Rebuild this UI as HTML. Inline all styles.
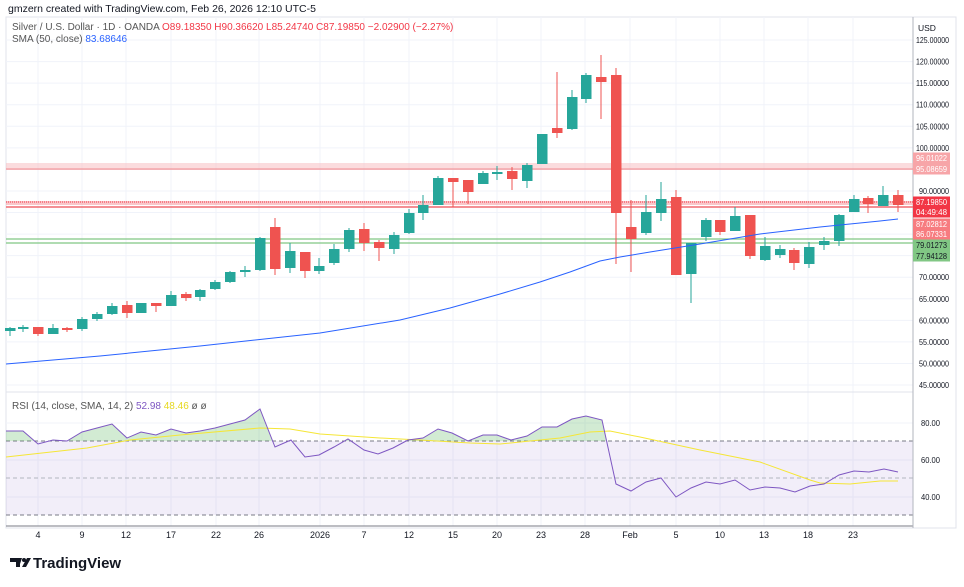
<!DOCTYPE html>
<html><head><meta charset="utf-8"><style>
body{margin:0;background:#fff;width:964px;height:582px;overflow:hidden;font-family:"Liberation Sans",sans-serif}
svg text{font-family:"Liberation Sans",sans-serif}
</style></head><body>
<svg id="s" width="964" height="582" xmlns="http://www.w3.org/2000/svg">
<text x="8" y="12" font-size="10.5" fill="#131722">gmzern created with TradingView.com, Feb 26, 2026 12:10 UTC-5</text>
<rect x="6" y="17" width="950" height="511" fill="none" stroke="#e0e3eb"/>
<g id="grid" stroke="#f0f3fa" stroke-width="1"></g>
<rect x="6" y="441" width="907" height="74" fill="#7e57c2" fill-opacity="0.1"/>
<line x1="6" y1="441" x2="913" y2="441" stroke="#787b86" stroke-dasharray="4,3"/>
<line x1="6" y1="478" x2="913" y2="478" stroke="#b2b5be" stroke-dasharray="4,3"/>
<line x1="6" y1="515" x2="913" y2="515" stroke="#787b86" stroke-dasharray="4,3"/>
<line x1="6" y1="392" x2="913" y2="392" stroke="#e0e3eb"/>
<line x1="6" y1="526" x2="913" y2="526" stroke="#787b86"/>
<line x1="913" y1="17" x2="913" y2="528" stroke="#b2b5be"/>
<rect x="6" y="163" width="907" height="7" fill="#f7b9bd" fill-opacity="0.5"/>
<line x1="6" y1="169" x2="913" y2="169" stroke="#f08a90"/>
<rect x="6" y="201" width="907" height="4" fill="#f7a0a5" fill-opacity="0.6"/>
<line x1="6" y1="202" x2="913" y2="202" stroke="#f23645" stroke-dasharray="1,1"/>
<line x1="6" y1="207" x2="913" y2="207" stroke="#f06a70" stroke-width="1.5"/>
<line x1="6" y1="239" x2="913" y2="239" stroke="#81c784" stroke-width="1.2"/>
<line x1="6" y1="243" x2="913" y2="243" stroke="#81c784" stroke-width="1.2"/>
<g id="candles"></g>
<polyline fill="none" stroke="#2962ff" stroke-width="1" points="6,364 100,356 200,346 320,333 400,320 450,308 500,294 540,282 570,272 600,261 620,257 650,252 700,244 760,234 820,227 880,221 898,219"/>
<defs><clipPath id="ob"><rect x="6" y="393" width="907" height="48"/></clipPath></defs>
<polygon id="rfill" fill="#4caf50" fill-opacity="0.25" clip-path="url(#ob)"/>
<polyline id="rsma" fill="none" stroke="#f5e636" stroke-width="1"/>
<polyline id="rsi" fill="none" stroke="#7e57c2" stroke-width="1"/>
<text x="12" y="30" font-size="10" fill="#555">Silver / U.S. Dollar · 1D · OANDA <tspan fill="#f23645">O89.18350 H90.36620 L85.24740 C87.19850 −2.02900 (−2.27%)</tspan></text>
<text x="12" y="42" font-size="10" fill="#555">SMA (50, close) <tspan fill="#2962ff">83.68646</tspan></text>
<text x="12" y="409" font-size="10" fill="#555">RSI (14, close, SMA, 14, 2) <tspan fill="#7e57c2">52.98</tspan> <tspan fill="#e6d820">48.46</tspan> ø ø</text>
<text x="918" y="31" font-size="8.5" fill="#131722">USD</text>
<g id="axis" font-size="8.5" fill="#131722"></g>
<g id="tl" font-size="9" fill="#131722" text-anchor="middle"></g>
<g transform="translate(10,556)"><path d="M0 2h10v9h-4v-5h-6z M10 2h2l-3 9" fill="#131722"/><circle cx="14" cy="4" r="2" fill="#131722"/><path d="M17 2h4l-5 9h-4z" fill="#131722"/></g>
<text x="33" y="568" font-size="15" font-weight="bold" fill="#131722">TradingView</text>
</svg>
<script>
var NS="http://www.w3.org/2000/svg";
function el(p,t,a,txt){var e=document.createElementNS(NS,t);for(var k in a)e.setAttribute(k,a[k]);if(txt)e.textContent=txt;p.appendChild(e);return e;}
var g=document.getElementById('grid');
var tx=[[38,'4'],[82,'9'],[126,'12'],[171,'17'],[216,'22'],[259,'26'],[320,'2026'],[364,'7'],[409,'12'],[453,'15'],[497,'20'],[541,'23'],[585,'28'],[630,'Feb'],[676,'5'],[720,'10'],[764,'13'],[808,'18'],[853,'23']];
tx.forEach(function(t){el(g,'line',{x1:t[0],y1:17,x2:t[0],y2:526});el(document.getElementById('tl'),'text',{x:t[0],y:538},t[1]);});
function py(p){return 40+(125-p)*4.3125;}
for(var p=45;p<=125;p+=5){el(g,'line',{x1:6,y1:py(p),x2:913,y2:py(p)});}
[423,460,497].forEach(function(y){el(g,'line',{x1:6,y1:y,x2:913,y2:y});});
var ax=document.getElementById('axis');
[125,120,115,110,105,100,90,70,65,60,55,50,45].forEach(function(p){var s=p.toFixed(5);el(ax,'text',{x:p>=100?916:919,y:py(p)+3,textLength:p>=100?33:30,lengthAdjust:'spacingAndGlyphs'},s);});
[[80,423],[60,460],[40,497]].forEach(function(r){el(ax,'text',{x:921,y:r[1]+3,textLength:19,lengthAdjust:'spacingAndGlyphs'},r[0].toFixed(2));});
var labs=[[158,'96.01022','#f7a5a8','#fff'],[169,'95.08659','#f7a5a8','#fff'],[202,'87.19850','#f23645','#fff'],[212,'04:49:48','#f23645','#fff'],[224,'87.02812','#f77c80','#fff'],[234,'86.07331','#f77c80','#fff'],[245,'79.01273','#81c784','#131722'],[256,'77.94128','#81c784','#131722']];
labs.forEach(function(l){el(ax,'rect',{x:913,y:l[0]-5.5,width:37,height:11,fill:l[2]});el(ax,'text',{x:916,y:l[0]+3,fill:l[3],textLength:31,lengthAdjust:'spacingAndGlyphs'},l[1]);});
var C=[[10,'g',328,331,327,336],[23,'g',327,329,325,332],[38,'r',327,334,327,336],[53,'g',328,334,324,334],[67,'r',328,330,327,332],[82,'g',319,329,317,331],[97,'g',314,319,312,321],[112,'g',306,314,303,315],[127,'r',305,313,301,318],[141,'g',303,313,303,313],[156,'r',303,306,303,312],[171,'g',295,306,291,306],[186,'r',294,298,292,301],[200,'g',290,297,289,301],[215,'g',282,289,280,290],[230,'g',272,282,271,283],[245,'g',270,272,266,277],[260,'g',238,270,237,271],[275,'r',227,269,218,275],[290,'g',251,268,243,273],[305,'r',252,271,252,278],[319,'g',266,271,258,274],[334,'g',249,263,244,265],[349,'g',230,249,228,252],[364,'r',229,243,223,251],[379,'r',242,248,240,261],[394,'g',235,249,232,254],[409,'g',213,233,209,234],[423,'g',205,213,195,220],[438,'g',178,205,176,205],[453,'r',178,182,178,207],[468,'r',180,192,180,204],[483,'g',173,184,171,184],[497,'g',172,174,166,180],[512,'r',171,179,167,190],[527,'g',165,181,163,188],[542,'g',134,164,134,164],[557,'r',128,133,72,138],[572,'g',97,129,90,130],[586,'g',75,99,73,103],[601,'r',77,82,55,119],[616,'r',75,213,68,264],[631,'r',227,239,200,272],[646,'g',212,233,195,235],[661,'g',199,213,182,221],[676,'r',197,275,190,275],[691,'g',243,274,243,303],[706,'g',220,237,218,241],[720,'r',220,232,220,235],[735,'g',216,231,207,231],[750,'r',215,256,215,259],[765,'g',246,260,237,261],[780,'g',249,255,245,258],[794,'r',250,263,248,270],[809,'g',247,264,242,268],[824,'g',241,245,237,250],[839,'g',215,241,214,246],[854,'g',199,212,195,212],[868,'r',198,204,196,213],[883,'g',195,206,186,206],[898,'r',195,205,190,212]];
var cg=document.getElementById('candles');
C.forEach(function(c){var col=c[1]=='g'?'#26a69a':'#ef5350';el(cg,'line',{x1:c[0],y1:c[4],x2:c[0],y2:c[5],stroke:col});el(cg,'rect',{x:c[0]-5,y:c[2],width:10.5,height:Math.max(2,c[3]-c[2]),fill:col});});
var R="6,431 23,431 38,444 53,440 67,441 82,432 97,428 112,424 127,438 141,432 156,435 171,429 186,433 200,431 215,428 230,424 245,420 260,409 275,447 291,440 305,457 319,455 334,447 348,439 364,450 378,454 393,448 408,440 423,438 438,429 452,433 468,441 483,435 497,435 511,440 527,436 542,427 557,427 572,419 586,416 602,420 616,484 631,491 646,482 661,478 676,497 691,488 706,482 720,484 735,480 750,490 765,487 780,488 795,492 810,486 824,484 839,475 854,471 869,472 884,469 898,472";
document.getElementById('rsi').setAttribute('points',R);
document.getElementById('rfill').setAttribute('points',"6,441 "+R+" 898,441");
document.getElementById('rsma').setAttribute('points',"6,457 87,448 130,440 180,435 260,428 290,429 320,434 380,438 420,440 470,443 500,444 530,441 560,438 590,432 610,431 640,437 700,450 760,462 810,480 820,483 850,484 880,481 898,481");
</script>
</body></html>
